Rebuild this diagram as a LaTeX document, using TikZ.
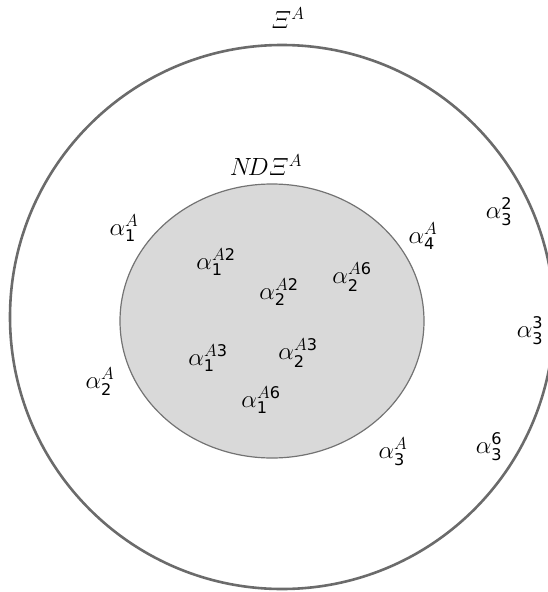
\documentclass[tikz,border=0pt]{standalone}
\usepackage{amsmath}
\usepackage[no-math]{fontspec}
\newfontfamily\digitfont{DejaVu Sans}
\newcommand{\dg}[1]{\text{\digitfont #1}}
% alpha with subscript and superscript
\newcommand{\alab}[2]{$\alpha_{\dg{#1}}^{#2\vphantom{A}}$}
\begin{document}
\begin{tikzpicture}[x=1pt,y=-1pt,
  lbl/.style={inner sep=0pt,font=\fontsize{23}{26}\selectfont},
  ttl/.style={inner sep=0pt,font=\fontsize{23}{27}\selectfont}]
\useasboundingbox (0,0) rectangle (548,592);
\begin{scope}
\clip (0,0) rectangle (548,592);
\draw[line width=2.6pt,draw=black!58] (282,317) circle (272);
\end{scope}
\draw[line width=1.2pt,draw=black!55,fill=black!15] (272,321) ellipse (152 and 137);

\node[ttl] (xi) at (288,18) {$\varXi^{A}$};
\node[ttl] (ndxi) at (266,165) {$N\!D\varXi^{A}$};

\node[lbl] (a1A) at (124,228) {\alab{1}{A}};
\node[lbl] (a2A) at (100,382) {\alab{2}{A}};
\node[lbl] (a3A) at (393,452) {\alab{3}{A}};
\node[lbl] (a4A) at (423,236) {\alab{4}{A}};
\node[lbl] (a32) at (499,212) {\alab{3}{\dg{2}}};
\node[lbl] (a33) at (530,331) {\alab{3}{\dg{3}}};
\node[lbl] (a36) at (489,447) {\alab{3}{\dg{6}}};

\node[lbl] (a1A2) at (216,262) {\alab{1}{A\dg{2}}};
\node[lbl] (a2A2) at (279,292) {\alab{2}{A\dg{2}}};
\node[lbl] (a2A6) at (352,277) {\alab{2}{A\dg{6}}};
\node[lbl] (a1A3) at (208,358) {\alab{1}{A\dg{3}}};
\node[lbl] (a2A3) at (298,353) {\alab{2}{A\dg{3}}};
\node[lbl] (a1A6) at (261,400) {\alab{1}{A\dg{6}}};
\end{tikzpicture}
\end{document}
